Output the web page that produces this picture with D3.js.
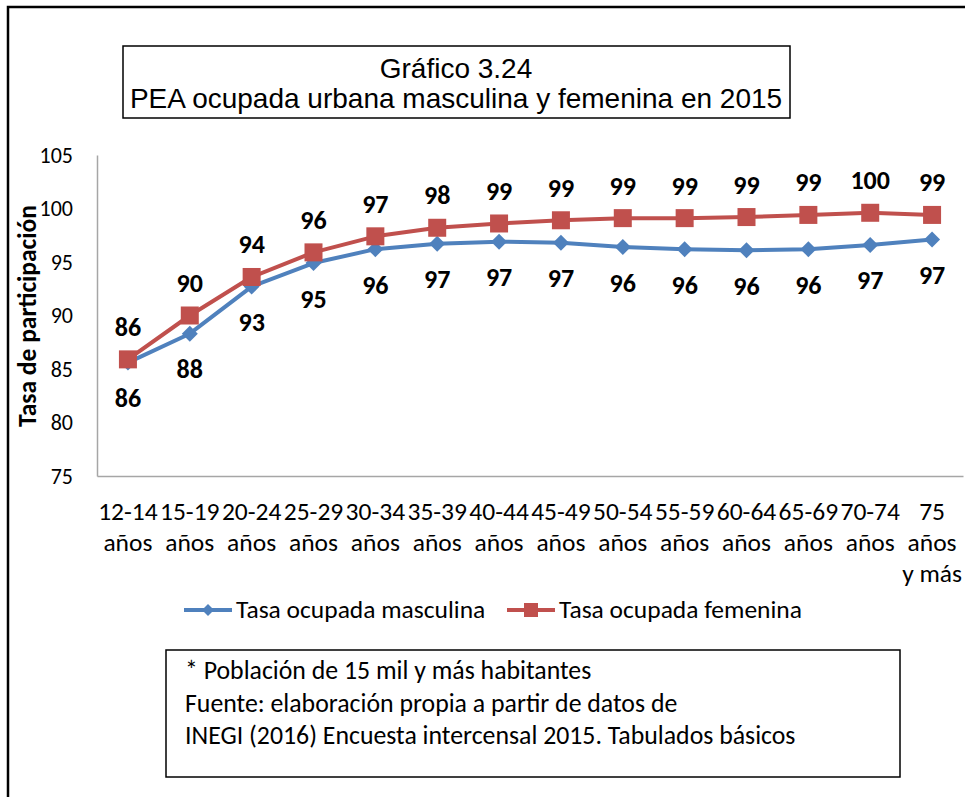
<!DOCTYPE html>
<html>
<head>
<meta charset="utf-8">
<script src="https://cdn.jsdelivr.net/npm/d3@7"></script>
<style>
  html, body { margin: 0; padding: 0; background: #fff; }
  svg { display: block; }
</style>
</head>
<body>
<svg id="chart" width="965" height="797"></svg>
<script>
// ---- Data ----
const categories = ["12-14 años","15-19 años","20-24 años","25-29 años","30-34 años","35-39 años","40-44 años","45-49 años","50-54 años","55-59 años","60-64 años","65-69 años","70-74 años","75 años y más"];
const categoryLines = [["12-14","años"],["15-19","años"],["20-24","años"],["25-29","años"],["30-34","años"],["35-39","años"],["40-44","años"],["45-49","años"],["50-54","años"],["55-59","años"],["60-64","años"],["65-69","años"],["70-74","años"],["75","años","y más"]];
const masculina = [85.6, 88.3, 92.7, 94.9, 96.2, 96.7, 96.9, 96.8, 96.4, 96.2, 96.1, 96.2, 96.6, 97.1];
const femenina  = [85.9, 90.0, 93.6, 95.9, 97.4, 98.2, 98.6, 98.9, 99.1, 99.1, 99.2, 99.4, 99.6, 99.4];
const yTicks = [75, 80, 85, 90, 95, 100, 105];
const seriesNames = ["Tasa ocupada masculina", "Tasa ocupada femenina"];
const titleLines = ["Gráfico 3.24", "PEA ocupada urbana masculina y femenina en 2015"];
const yLabel = "Tasa de participación";
const noteLines = ["* Población de 15 mil y más habitantes", "Fuente: elaboración propia a partir de datos de", "INEGI (2016) Encuesta intercensal 2015. Tabulados básicos"];

// ---- Layout ----
const svg = d3.select("#chart");
const FONT = "Carlito, Calibri, Lato, sans-serif";
const blue = "#4F81BD", red = "#C0504D", axisGray = "#A6A6A6";

const plot = {left: 97, right: 963, top: 155, bottom: 476};
const x = d3.scaleBand().domain(categories).range([plot.left, plot.right]).paddingInner(0).paddingOuter(0);
const y = d3.scaleLinear().domain([75, 105]).range([plot.bottom, plot.top]);
const cx = c => x(c) + x.bandwidth() / 2;

// outer border
svg.append("rect").attr("x", 8).attr("y", 7).attr("width", 1000).attr("height", 1000)
  .attr("fill", "none").attr("stroke", "#000").attr("stroke-width", 2.5);

// title box
svg.append("rect").attr("x", 123).attr("y", 46).attr("width", 667).attr("height", 72)
  .attr("fill", "#fff").attr("stroke", "#000").attr("stroke-width", 1.5);
svg.append("g").selectAll("text").data(titleLines).join("text")
  .attr("x", 456).attr("y", (d, i) => 78 + i * 30)
  .attr("text-anchor", "middle")
  .attr("font-family", "'Liberation Sans', Arial, sans-serif")
  .attr("font-size", 28).attr("fill", "#000")
  .text(d => d);

// y axis
const yAxis = d3.axisLeft(y).tickValues(yTicks).tickSize(0).tickPadding(24);
const gy = svg.append("g").attr("transform", `translate(${plot.left},0)`).call(yAxis);
gy.select(".domain").attr("stroke", axisGray).attr("stroke-width", 1.5);
gy.selectAll("text").attr("font-family", FONT).attr("font-size", 22).attr("fill", "#000");

// x axis
const xAxis = d3.axisBottom(x).tickSize(0).tickFormat("");
const gx = svg.append("g").attr("transform", `translate(0,${plot.bottom})`).call(xAxis);
gx.select(".domain").attr("stroke", axisGray).attr("stroke-width", 1.5);

// x labels (multi-line)
const xl = svg.append("g").selectAll("text").data(categories).join("text")
  .attr("font-family", FONT).attr("font-size", 25.5).attr("fill", "#000")
  .attr("text-anchor", "middle");
xl.each(function(d, i) {
  d3.select(this).selectAll("tspan").data(categoryLines[i]).join("tspan")
    .attr("x", cx(d)).attr("y", (t, j) => 520 + j * 31).text(t => t);
});

// y label
svg.append("text")
  .attr("transform", "translate(36,316) rotate(-90)")
  .attr("text-anchor", "middle")
  .attr("font-family", FONT).attr("font-size", 25.5).attr("font-weight", "bold")
  .text(yLabel);

// lines
const line = d3.line().x((d, i) => cx(categories[i])).y(d => y(d));
svg.append("path").datum(masculina).attr("d", line)
  .attr("fill", "none").attr("stroke", blue).attr("stroke-width", 4).attr("stroke-linejoin", "round");
svg.append("path").datum(femenina).attr("d", line)
  .attr("fill", "none").attr("stroke", red).attr("stroke-width", 4).attr("stroke-linejoin", "round");

// markers
const diamond = d3.symbol().type(d3.symbolSquare).size(128);
svg.append("g").selectAll("path").data(masculina).join("path")
  .attr("d", diamond())
  .attr("transform", (d, i) => `translate(${cx(categories[i])},${y(d)}) rotate(45)`)
  .attr("fill", blue);
svg.append("g").selectAll("rect").data(femenina).join("rect")
  .attr("x", (d, i) => cx(categories[i]) - 9).attr("y", d => y(d) - 9)
  .attr("width", 18).attr("height", 18).attr("fill", red);

// data labels
const fmt = d3.format(".0f");
svg.append("g").selectAll("text").data(femenina).join("text")
  .attr("x", (d, i) => cx(categories[i])).attr("y", d => y(d) - 23.5)
  .attr("text-anchor", "middle").attr("font-family", FONT).attr("font-size", 26).attr("font-weight", "bold")
  .text(d => fmt(d));
svg.append("g").selectAll("text").data(masculina).join("text")
  .attr("x", (d, i) => cx(categories[i])).attr("y", d => y(d) + 44.5)
  .attr("text-anchor", "middle").attr("font-family", FONT).attr("font-size", 26).attr("font-weight", "bold")
  .text(d => fmt(d));

// legend
const legend = svg.append("g");
const legItems = [
  {name: seriesNames[0], color: blue, x0: 184, shape: "diamond"},
  {name: seriesNames[1], color: red, x0: 507, shape: "square"}
];
legItems.forEach(it => {
  const g = legend.append("g");
  g.append("line").attr("x1", it.x0).attr("x2", it.x0 + 48).attr("y1", 610).attr("y2", 610)
    .attr("stroke", it.color).attr("stroke-width", 4);
  if (it.shape === "diamond") {
    g.append("path").attr("d", d3.symbol().type(d3.symbolSquare).size(72)())
      .attr("transform", `translate(${it.x0 + 24},610) rotate(45)`).attr("fill", it.color);
  } else {
    g.append("rect").attr("x", it.x0 + 24 - 7).attr("y", 603).attr("width", 14).attr("height", 14).attr("fill", it.color);
  }
  g.append("text").attr("x", it.x0 + 52).attr("y", 618)
    .attr("font-family", FONT).attr("font-size", 25.5).attr("fill", "#000").text(it.name);
});

// note box
svg.append("rect").attr("x", 166).attr("y", 650).attr("width", 734).attr("height", 127)
  .attr("fill", "#fff").attr("stroke", "#000").attr("stroke-width", 1.5);
svg.append("g").selectAll("text").data(noteLines).join("text")
  .attr("x", 185).attr("y", (d, i) => 679 + i * 32.5)
  .attr("font-family", FONT).attr("font-size", 25.8).attr("fill", "#000")
  .text(d => d);
</script>
</body>
</html>
